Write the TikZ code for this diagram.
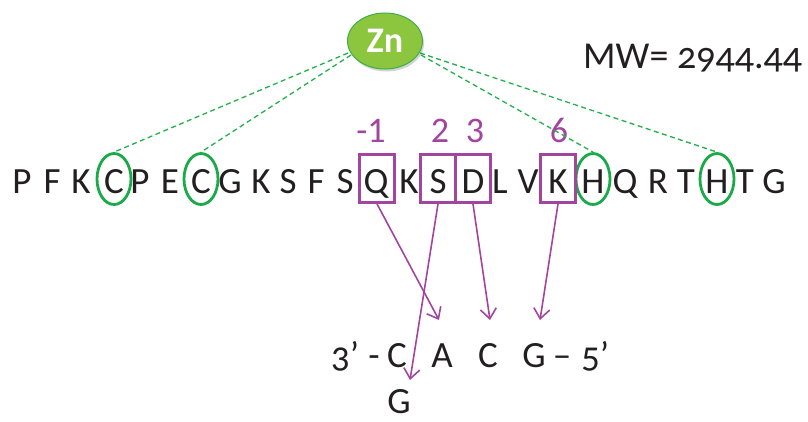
\documentclass[tikz,border=0pt]{standalone}
\usepackage{fontspec}
\setmainfont{Carlito}[Numbers=OldStyle]
\newfontfamily\lining{Carlito}
\usetikzlibrary{arrows.meta,shadows,shapes.geometric}
\definecolor{seqtxt}{HTML}{231F20}
\definecolor{circgreen}{HTML}{1AAA4A}
\definecolor{dashgreen}{HTML}{22B04C}
\definecolor{znfill}{HTML}{8CC63F}
\definecolor{znedge}{HTML}{3DAE49}
\definecolor{purp}{HTML}{A3449F}
\tikzset{
  res/.style={anchor=base,inner sep=0pt,text=seqtxt,font=\fontsize{37}{40}\selectfont},
  ring/.style={draw=circgreen,line width=2.8pt,ellipse,minimum width=34pt,minimum height=51pt,inner sep=0pt},
  hbox/.style={draw=purp,line width=2.8pt,rectangle,minimum width=35pt,minimum height=48pt,inner sep=0pt},
  poslab/.style={anchor=base,inner sep=0pt,text=purp,font=\lining\fontsize{36}{40}\selectfont},
  bond/.style={dashgreen,dashed,dash pattern=on 5pt off 3.5pt,line width=1.3pt},
  contact/.style={purp,line width=1.6pt,-{Straight Barb[length=10pt,width=16pt,line width=1.6pt]}},
}
\begin{document}
\begin{tikzpicture}[x=1pt,y=-1pt]
\useasboundingbox (0,0) rectangle (808,421);
% sequence
\foreach \l/\x/\n in {P/22/r1,F/52/r2,K/81/r3,C/114/r4,P/140/r5,E/170/r6,C/201/r7,G/230/r8,K/261/r9,S/288/r10,F/316/r11,S/345/r12,Q/376/r13,K/409/r14,S/438/r15,D/473/r16,L/500/r17,V/528/r18,K/558/r19,H/593/r20,Q/625/r21,R/658/r22,T/686/r23,H/717/r24,T/745/r25,G/774/r26}
  \node[res] (\n) at (\x,193) {\l};
% zinc-binding rings
\node[ring] (c1) at (114,179) {};
\node[ring] (c2) at (201,179) {};
\node[ring] (h1) at (593,179) {};
\node[ring] (h2) at (717,179) {};
% contact boxes
\node[hbox] (bq) at (377,178.5) {};
\node[hbox] (bs) at (438,178.5) {};
\node[hbox] (bd) at (473,178.5) {};
\node[hbox] (bk) at (558,178.5) {};
% position labels
\node[poslab] (pm1) at (371,142) {-1};
\node[poslab] (p2) at (440,142) {2};
\node[poslab] (p3) at (475,142) {3};
\node[poslab] (p6) at (559,142) {6};
% Zn
\node[ellipse,fill=znfill,draw=znedge,line width=1pt,minimum width=75pt,minimum height=56pt,inner sep=0pt,
  drop shadow={shadow xshift=1.5pt,shadow yshift=-2.5pt,opacity=0.35},
  text=white,font=\bfseries\fontsize{36}{38}\selectfont] (zn) at (385,41) {Zn};
% MW
\node[anchor=base west,inner sep=0pt,text=seqtxt,font=\fontsize{38}{40}\selectfont] (mw) at (583,68) {MW= 2944.44};
% dashed bonds
\coordinate (zl1) at (348,53);
\coordinate (zl2) at (351,55);
\coordinate (zr1) at (420,53);
\coordinate (zr2) at (421,55);
\draw[bond] (zl1) -- (c1.north);
\draw[bond] (zl2) -- (c2.north);
\draw[bond] (zr2) -- (h1.north);
\draw[bond] (zr1) -- (h2.north);
% DNA
\node[res] (b3) at (345,367) {3’};
\node[res] (bdash) at (374,367) {-};
\node[res] (dc1) at (397,367) {C};
\node[res] (da) at (442,367) {A};
\node[res] (dc2) at (488,367) {C};
\node[res] (dg) at (534,367) {G};
\node[res] (bdash2) at (562,367) {–};
\node[res] (b5) at (595,367) {5’};
\node[res] (dg2) at (399,413) {G};
% contacts
\coordinate (ea) at (439,320);
\coordinate (eg) at (410,380);
\coordinate (ec) at (490,320);
\coordinate (egg) at (540,320);
\draw[contact] (bq.south) -- (ea);
\draw[contact] (bs.south) -- (eg);
\draw[contact] (bd.south) -- (ec);
\draw[contact] (bk.south) -- (egg);
\end{tikzpicture}
\end{document}
